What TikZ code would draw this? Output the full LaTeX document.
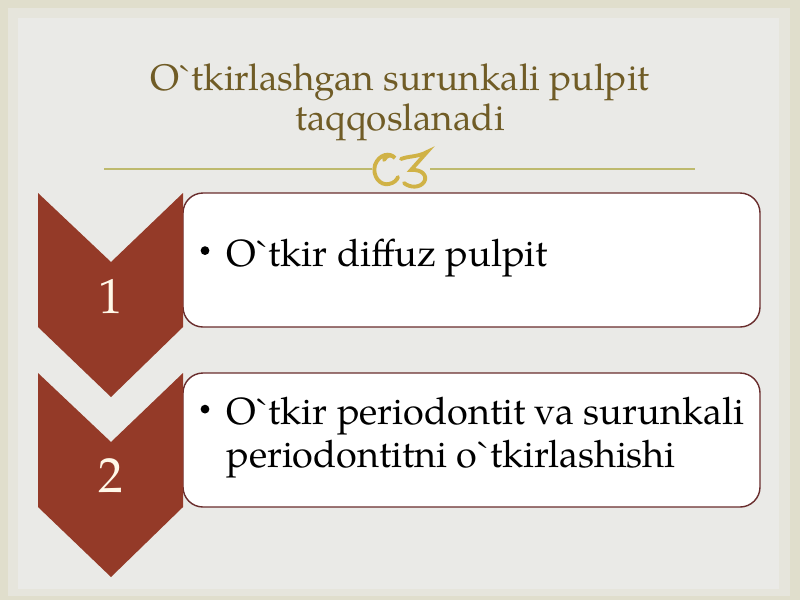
\documentclass[tikz,border=0pt]{standalone}
\usepackage{fontspec}
\newfontfamily\pala{TeX Gyre Pagella}
\usepackage{xcolor}
\usepackage{tikz}
\usetikzlibrary{positioning, calc}
\definecolor{frame}{RGB}{224,222,204}
\definecolor{panel}{RGB}{234,234,231}
\definecolor{chevred}{RGB}{148,58,40}
\definecolor{gold}{RGB}{208,178,70}
\definecolor{rulegold}{RGB}{190,186,110}
\definecolor{titlebrown}{RGB}{112,92,38}
\definecolor{boxline}{RGB}{105,45,45}
\definecolor{cream}{RGB}{255,248,232}
\tikzset{
    chevron/.style={fill=chevred, draw=none},
    itembox/.style={draw=boxline, fill=white, line width=0.8pt, rounded corners=0.4cm},
    number/.style={text=cream, font=\pala\fontsize{28}{32}\selectfont},
    item/.style={anchor=west, inner sep=0pt, align=left, font=\pala\fontsize{21.5}{24.5}\selectfont},
    dot/.style={circle, fill=black, inner sep=0pt, minimum size=5pt},
    title/.style={text=titlebrown, align=center, font=\pala\fontsize{21}{22.8}\selectfont},
    ornament/.style={gold, line width=2.2pt, line cap=round}
}
\begin{document}
\begin{tikzpicture}[x=0.02cm, y=-0.02cm]
  \useasboundingbox (0,0) rectangle (800,600);
  \fill[frame] (0,0) rectangle (800,600);
  \fill[panel!60!frame] (8,8) rectangle (790,596);
  \fill[panel] (18,18) rectangle (779,589);
  % title
  \node[title] (title) at (400,102) {O`tkirlashgan surunkali pulpit\\taqqoslanadi};
  % rule and ornament
  \coordinate (ruleL) at (104,169);
  \coordinate (ruleR) at (695,169);
  \coordinate (orn) at (400,169);
  \draw[rulegold, line width=1.2pt] (ruleL) -- ($(orn)+(-28,0)$);
  \draw[rulegold, line width=1.2pt] ($(orn)+(30,0)$) -- (ruleR);
  \draw[ornament] (384,160) .. controls (386,155) and (392,154) .. (395,158)
    .. controls (390,152) and (379,154) .. (375,165)
    .. controls (372,176) and (380,186) .. (389,184) .. controls (394,183) and (397,180) .. (398,177);
  \draw[ornament] (401,159) .. controls (408,156) and (418,157) .. (427,152) -- (411,170)
    .. controls (422,169) and (428,176) .. (424,182) .. controls (420,188) and (410,188) .. (404,183);
  % rows
  \foreach \n/\dy/\txt in {1/0/{O`tkir diffuz pulpit},
                           2/180/{O`tkir periodontit va surunkali\\periodontitni o`tkirlashishi}} {
    \begin{scope}[yshift={-0.02cm*\dy}]
      \filldraw[itembox] (183,193) -- (760,193) -- (760,327) -- (183,327) -- cycle;
      \fill[chevron] (38,193) -- (111,262) -- (183,193) -- (183,327) -- (111,397) -- (38,327) -- cycle;
      \node[number] (num\n) at (111,296) {\n};
      \node[item] (item\n) at (226,258) {\txt};
      \node[dot] (dot\n) at ($(item\n.north west)+(-21,12)$) {};
    \end{scope}
  }
\end{tikzpicture}
\end{document}
